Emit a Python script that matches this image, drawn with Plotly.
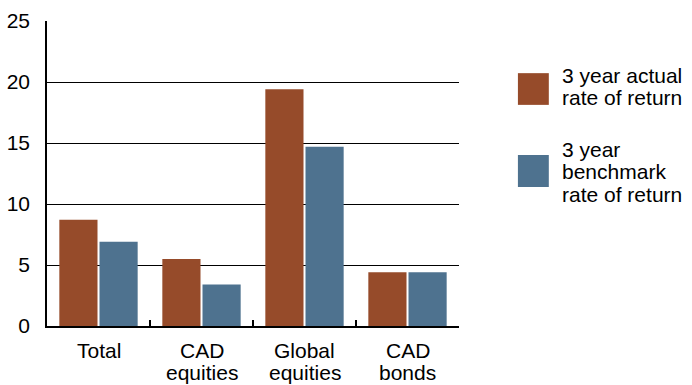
import plotly.graph_objects as go

categories = ["Total", "CAD equities", "Global equities", "CAD bonds"]
category_lines = [["Total"], ["CAD", "equities"], ["Global", "equities"], ["CAD", "bonds"]]
series_names = ["3 year actual rate of return", "3 year benchmark rate of return"]
series_lines = [["3 year actual", "rate of return"], ["3 year", "benchmark", "rate of return"]]
actual = [8.7, 5.5, 19.4, 4.4]
benchmark = [6.9, 3.4, 14.7, 4.4]
colors = ["#964B2A", "#4E728F"]
y_ticks = [0, 5, 10, 15, 20, 25]

FONT = "Liberation Sans, Arial, Helvetica, sans-serif"
FS = 21

fig = go.Figure()
for name, vals, col in zip(series_names, [actual, benchmark], colors):
    fig.add_trace(go.Bar(x=categories, y=vals, name=name, marker_color=col,
                         marker_line_width=0, showlegend=False))

# x category labels, one annotation per line
x_line_y = [-0.080, -0.152]
for cat, lines in zip(categories, category_lines):
    for ly, txt in zip(x_line_y, lines):
        fig.add_annotation(xref="x", yref="paper", x=cat, y=ly, text=txt,
                           showarrow=False, xanchor="center", yanchor="middle",
                           font=dict(size=FS, color="black", family=FONT))

# custom legend
legend_boxes = [(0.725, 0.829), (0.456, 0.561)]
legend_line_y = [[0.820, 0.748], [0.580, 0.505, 0.430]]
for (y0, y1), lys, lines, col in zip(legend_boxes, legend_line_y, series_lines, colors):
    fig.add_shape(type="rect", xref="paper", yref="paper", x0=1.143, x1=1.218,
                  y0=y0, y1=y1, fillcolor=col, line_width=0)
    for ly, txt in zip(lys, lines):
        fig.add_annotation(xref="paper", yref="paper", x=1.245, y=ly, text=txt,
                           showarrow=False, xanchor="left", yanchor="middle", align="left",
                           font=dict(size=FS, color="black", family=FONT))

fig.update_layout(
    width=692, height=385,
    margin=dict(l=47, r=233, t=21, b=59, autoexpand=False),
    paper_bgcolor="white", plot_bgcolor="white",
    barmode="group", bargap=0.22, bargroupgap=0.05,
    font=dict(family=FONT, size=FS, color="black"),
)
fig.update_xaxes(showline=True, linecolor="black", linewidth=2, automargin=False,
                 ticks="inside", tickson="boundaries", ticklen=6, tickcolor="black",
                 tickwidth=1.5, showgrid=False, showticklabels=False)
fig.update_yaxes(range=[0, 25], tickvals=y_ticks, showline=True, linecolor="black",
                 linewidth=1.5, showgrid=True, gridcolor="black", gridwidth=1.2,
                 automargin=False,
                 zeroline=False, ticks="", ticklabelstandoff=11, tickfont=dict(size=FS))

fig.write_html("out.html")
